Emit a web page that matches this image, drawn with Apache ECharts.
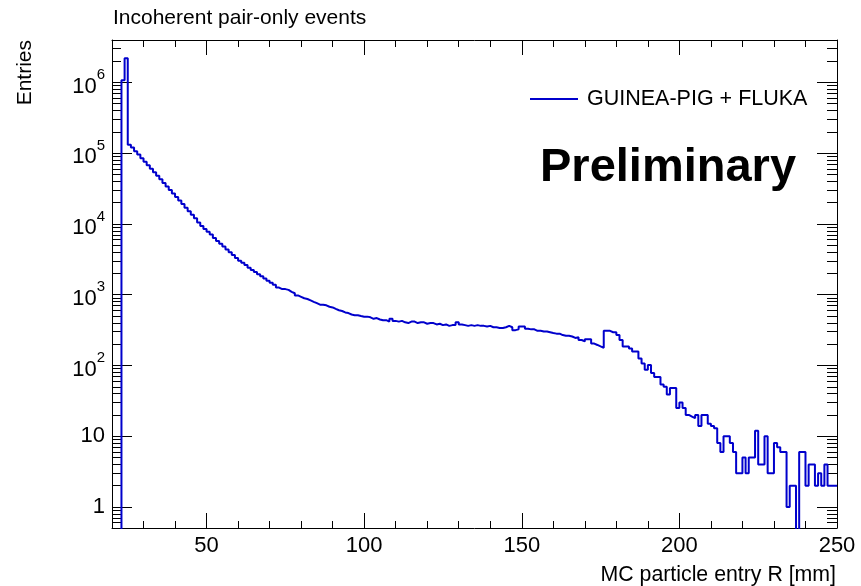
<!DOCTYPE html>
<html><head><meta charset="utf-8">
<script src="https://cdn.jsdelivr.net/npm/echarts@6/dist/echarts.min.js"></script>
<style>html,body{margin:0;padding:0;background:#fff}#c{width:861px;height:586px}</style>
</head><body><div id="c"></div>
<script>
// ---- data ----
const binStart = 23;   // mm, low edge of first filled bin
const binWidth = 1;    // mm
const counts = [
1070000,2200000,132000,120000,107000,95500,85100,75900,67600,60300,
53700,47900,42700,38000,33900,30200,26900,24000,21400,19100,
17000,15100,13500,12000,10500,9330,8510,7760,7080,6310,
5750,5250,4790,4370,3980,3630,3310,3020,2820,2630,
2400,2240,2090,1950,1820,1700,1580,1480,1380,1260,
1200,1200,1170,1100,1050,977,933,891,871,832,
794,759,724,724,708,676,661,631,603,589,
562,550,525,513,513,501,490,490,479,457,
468,447,437,437,417,457,427,417,427,407,
398,417,417,398,407,407,389,398,398,380,
389,372,380,363,372,372,407,380,372,363,
372,363,372,363,363,355,363,347,347,339,
339,347,363,347,316,324,355,355,331,324,
324,309,309,302,302,295,288,282,282,269,
263,263,257,245,251,229,219,234,234,204,
195,186,178,309,309,295,295,269,229,186,
186,174,158,158,126,107,87,102,78,69,
69,54,50,39,48,48,25,30,25,20,
19,18,20,14,20,20,15,14,13,8,
6,10,10,8,6,3,3,5,3,5,
5,12,4,4,10,3,3,8,7,6,
6,1,2,2,0,6,6,2,4,4,
2,3,2,4,2,2,2
];
const xMajorTicks = [50, 100, 150, 200, 250];
const xMinorTicks = [30, 40, 60, 70, 80, 90, 110, 120, 130, 140, 160, 170, 180, 190, 210, 220, 230, 240];
const yDecades = [0, 1, 2, 3, 4, 5, 6];
const xRange = [20, 250];
const yRange = [0.505, 3.98e6];
const seriesName = 'GUINEA-PIG + FLUKA';
const titleText = 'Incoherent pair-only events';
const xTitle = 'MC particle entry R [mm]';
const yTitle = 'Entries';
const stampText = 'Preliminary';

// ---- build ----
const FONT = 'Liberation Sans, Arial, Helvetica, sans-serif';
const yMin = Math.log10(yRange[0]), yMax = Math.log10(yRange[1]);
const toLog = c => c > 0 ? Math.log10(c) : yMin - 1;
const pts = [[binStart, yMin - 1]];
counts.forEach((c, i) => pts.push([binStart + i * binWidth, toLog(c)]));
pts.push([binStart + counts.length * binWidth, toLog(counts[counts.length - 1])]);

const yMinor = [];
for (let k = -1; k <= 6; k++) for (let m = 2; m <= 9; m++) {
  const v = Math.log10(m) + k;
  if (v > yMin && v < yMax) yMinor.push(v);
}
const black = { color: '#000', width: 1 };
function xAx(pos, ticks, len, line, labels) {
  return {
    type: 'value', min: xRange[0], max: xRange[1], position: pos,
    axisLine: { show: line, onZero: false, lineStyle: black },
    axisTick: { show: true, inside: true, length: len, customValues: ticks, lineStyle: black },
    axisLabel: labels ? { show: true, customValues: ticks, fontSize: 22, color: '#000', fontFamily: FONT, margin: 7 } : { show: false },
    splitLine: { show: false }, minorTick: { show: false }
  };
}
function yAx(pos, ticks, len, line, labels) {
  return {
    type: 'value', min: yMin, max: yMax, position: pos,
    axisLine: { show: line, onZero: false, lineStyle: black },
    axisTick: { show: true, inside: true, length: len, customValues: ticks, lineStyle: black },
    axisLabel: labels ? {
      show: true, customValues: ticks, color: '#000', fontFamily: FONT, margin: 7,
      formatter: v => { const n = Math.round(v); return n === 0 ? '{b|1}' : n === 1 ? '{b|10}' : '{p|10}{s|' + n + '}'; },
      rich: {
        b: { fontSize: 22, fontFamily: FONT, color: '#000' },
        p: { fontSize: 22, fontFamily: FONT, color: '#000', padding: [8, 0, 0, 0] },
        s: { fontSize: 15, fontFamily: FONT, color: '#000', verticalAlign: 'top' }
      }
    } : { show: false },
    splitLine: { show: false }, minorTick: { show: false }
  };
}

const chart = echarts.init(document.getElementById('c'), null, { renderer: 'canvas' });
chart.setOption({
  animation: false,
  backgroundColor: '#fff',
  grid: { left: 112, right: 24, top: 40, bottom: 58, containLabel: false, outerBoundsMode: 'none' },
  xAxis: [
    xAx('bottom', xMajorTicks, 15, true, true),
    xAx('bottom', xMinorTicks, 7, false, false),
    xAx('top', xMajorTicks, 15, true, false),
    xAx('top', xMinorTicks, 7, false, false)
  ],
  yAxis: [
    yAx('left', yDecades, 20, true, true),
    yAx('left', yMinor, 9, false, false),
    yAx('right', yDecades, 20, true, false),
    yAx('right', yMinor, 10, false, false)
  ],
  legend: {
    data: [seriesName], left: 525, top: 83, icon: 'rect', itemWidth: 48, itemHeight: 2,
    textStyle: { fontSize: 21.5, color: '#000', fontFamily: FONT, padding: [0, 0, 0, 4] }
  },
  graphic: [
    { type: 'text', left: 113, top: 8, style: { text: titleText, font: '21px ' + FONT, fill: '#000' } },
    { type: 'text', right: 25, top: 565, style: { text: xTitle, font: '21.3px ' + FONT, fill: '#000' } },
    { type: 'text', left: 15, top: 40, rotation: Math.PI / 2, originX: 0, originY: 0,
      style: { text: yTitle, font: '21px ' + FONT, fill: '#000' } },
    { type: 'text', left: 540, top: 145, style: { text: stampText, font: 'bold 47px ' + FONT, fill: '#000' } }
  ],
  series: [{
    name: seriesName, type: 'line', step: 'end', symbol: 'none', showSymbol: false,
    xAxisIndex: 0, yAxisIndex: 0, clip: true,
    itemStyle: { color: '#0000cc' },
    lineStyle: { color: '#0000cc', width: 2 },
    data: pts
  }]
});
</script>
</body></html>
